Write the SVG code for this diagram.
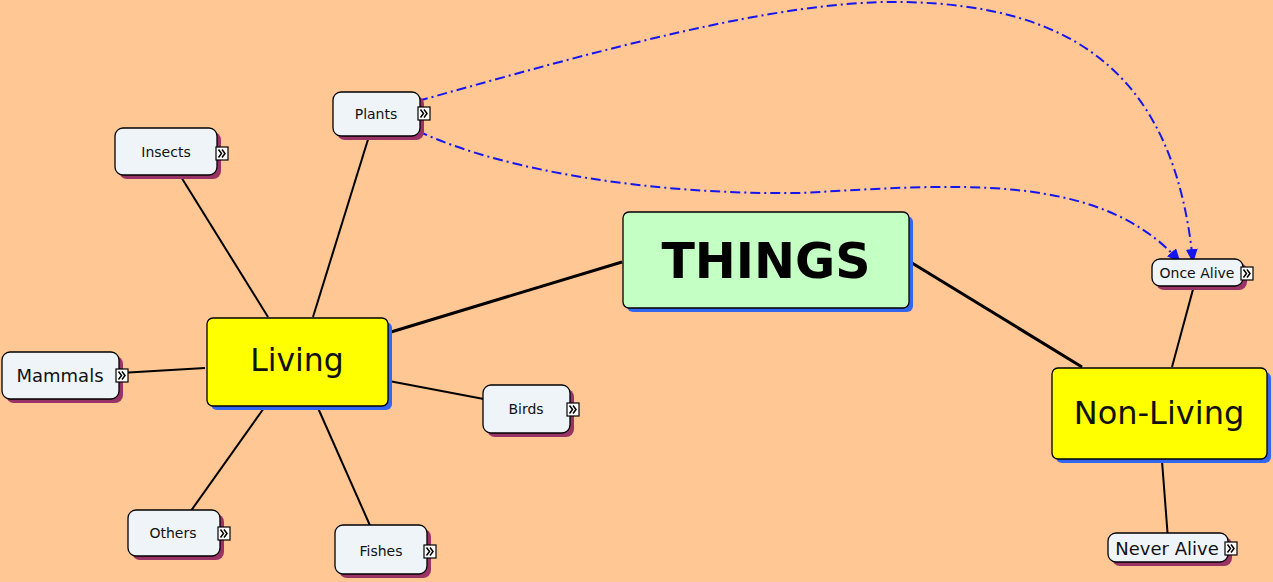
<svg xmlns="http://www.w3.org/2000/svg" width="1273" height="582" viewBox="0 0 1273 582">
<defs>
<style>
.sm{fill:#EEF4F8;stroke:#000;stroke-width:1.3}
.shm{fill:#993366}
.shb{fill:#3366EE}
.big{fill:#FFFF00;stroke:#000;stroke-width:1.3}
.t{font-family:"DejaVu Sans",Verdana,sans-serif;fill:#111;text-anchor:middle}
.ic{fill:#fff;stroke:#000;stroke-width:1.2}
.ch{fill:none;stroke:#000;stroke-width:1.5}
.ln{stroke:#000;stroke-width:2;fill:none}
.lnb{stroke:#000;stroke-width:3;fill:none}
.dd{stroke:#1515F0;stroke-width:2;fill:none;stroke-dasharray:10,4,2,4}
</style>
<marker id="ah" viewBox="0 0 14 12" refX="13" refY="6" markerWidth="14" markerHeight="12" markerUnits="userSpaceOnUse" orient="auto">
<path d="M0,0 L14,6 L0,12 Z" fill="#1515F0"/>
</marker>
<g id="icon"><rect class="ic" x="0" y="0" width="12" height="13"/><polyline class="ch" points="2.5,2.5 5.5,6.5 2.5,10.5"/><polyline class="ch" points="6,2.5 9,6.5 6,10.5"/></g>
</defs>
<rect width="1273" height="582" fill="#FFC794"/>
<g id="connectors">
<line class="lnb" x1="622" y1="262" x2="391" y2="332"/>
<line class="lnb" x1="912" y1="263" x2="1082" y2="367"/>
<line class="ln" x1="313" y1="317" x2="370" y2="133"/>
<line class="ln" x1="268" y1="317" x2="178" y2="172"/>
<line class="ln" x1="205" y1="368" x2="120" y2="373"/>
<line class="ln" x1="389" y1="381" x2="489" y2="400"/>
<line class="ln" x1="264" y1="408" x2="188" y2="515"/>
<line class="ln" x1="318" y1="408" x2="372" y2="530"/>
<line class="ln" x1="1172" y1="367" x2="1195" y2="282"/>
<line class="ln" x1="1162" y1="461" x2="1168" y2="539"/>
<path class="dd" d="M418,101 C600,50 780,0 900,2 C1080,4 1175,80 1193,262" marker-end="url(#ah)"/>
<path class="dd" d="M418,131 C500,170 650,195 800,193 C950,185 1100,170 1180,262" marker-end="url(#ah)"/>
</g>
<g id="things">
<rect class="shb" x="627" y="216" width="286" height="96" rx="6"/>
<rect x="623" y="212" width="286" height="96" rx="6" fill="#C4FFC4" stroke="#000" stroke-width="1.3"/>
<text class="t" x="766" y="278" font-size="49" font-weight="bold" style="fill:#000">THINGS</text>
</g>
<g id="living">
<rect class="shb" x="211" y="322" width="181" height="88" rx="6"/>
<rect class="big" x="207" y="318" width="181" height="88" rx="6"/>
<text class="t" x="297" y="371" font-size="31.5">Living</text>
</g>
<g id="nonliving">
<rect class="shb" x="1056" y="372" width="215" height="91" rx="6"/>
<rect class="big" x="1052" y="368" width="215" height="91" rx="6"/>
<text class="t" x="1159" y="424" font-size="32">Non-Living</text>
</g>
<g id="plants">
<rect class="shm" x="337" y="96" width="87" height="44" rx="8"/>
<rect class="sm" x="333" y="92" width="87" height="44" rx="8"/>
<text class="t" x="376" y="119" font-size="14">Plants</text>
<use href="#icon" x="418" y="107"/>
</g>
<g id="insects">
<rect class="shm" x="119" y="132" width="102" height="47" rx="8"/>
<rect class="sm" x="115" y="128" width="102" height="47" rx="8"/>
<text class="t" x="166" y="157" font-size="14">Insects</text>
<use href="#icon" x="216" y="147"/>
</g>
<g id="mammals">
<rect class="shm" x="6" y="356" width="117" height="47" rx="8"/>
<rect class="sm" x="2" y="352" width="117" height="47" rx="8"/>
<text class="t" x="60" y="382" font-size="18">Mammals</text>
<use href="#icon" x="116" y="369"/>
</g>
<g id="birds">
<rect class="shm" x="487" y="389" width="87" height="48" rx="8"/>
<rect class="sm" x="483" y="385" width="87" height="48" rx="8"/>
<text class="t" x="526" y="414" font-size="14">Birds</text>
<use href="#icon" x="567" y="403"/>
</g>
<g id="others">
<rect class="shm" x="132" y="514" width="92" height="46" rx="8"/>
<rect class="sm" x="128" y="510" width="92" height="46" rx="8"/>
<text class="t" x="173" y="538" font-size="14">Others</text>
<use href="#icon" x="218" y="527"/>
</g>
<g id="fishes">
<rect class="shm" x="339" y="529" width="92" height="49" rx="8"/>
<rect class="sm" x="335" y="525" width="92" height="49" rx="8"/>
<text class="t" x="381" y="556" font-size="14">Fishes</text>
<use href="#icon" x="424" y="545"/>
</g>
<g id="oncealive">
<rect class="shm" x="1156" y="263" width="91" height="27" rx="8"/>
<rect class="sm" x="1152" y="259" width="91" height="27" rx="8"/>
<text class="t" x="1197" y="278" font-size="14">Once Alive</text>
<use href="#icon" x="1241" y="267"/>
</g>
<g id="neveralive">
<rect class="shm" x="1112" y="537" width="120" height="29" rx="8"/>
<rect class="sm" x="1108" y="533" width="120" height="29" rx="8"/>
<text class="t" x="1167" y="555" font-size="18">Never Alive</text>
<use href="#icon" x="1225" y="542"/>
</g>
</svg>
